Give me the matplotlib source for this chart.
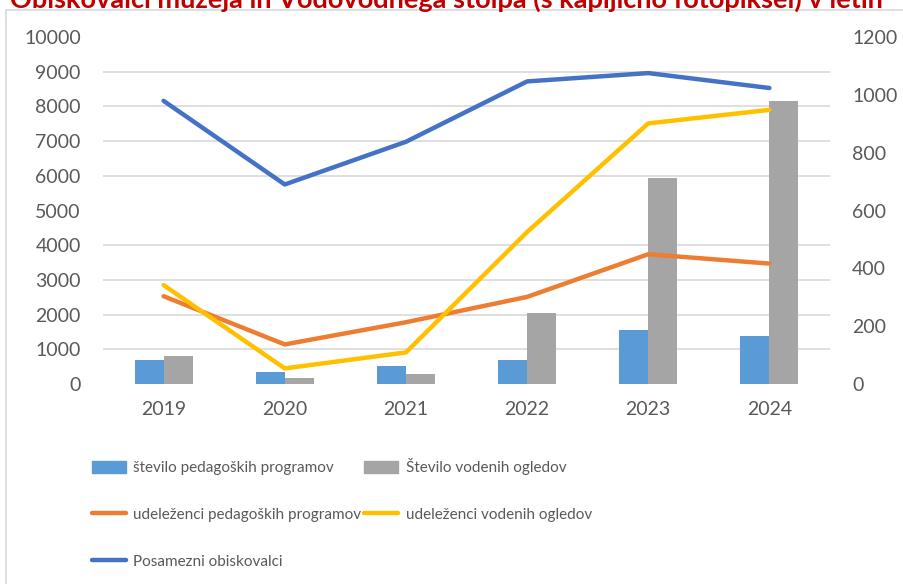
import numpy as np
import matplotlib
matplotlib.use("Agg")
import matplotlib.pyplot as plt
from matplotlib.patches import Rectangle, Patch
from matplotlib.lines import Line2D

years = ["2019", "2020", "2021", "2022", "2023", "2024"]

# bars, right axis
st_pedagoskih = [83, 43, 62, 83, 186, 167]
st_ogledov = [97, 20, 34, 247, 711, 979]

# lines, left axis
udel_pedagoskih = [2530, 1140, 1780, 2510, 3740, 3470]
udel_ogledov = [2850, 450, 910, 4380, 7510, 7900]
posamezni = [8160, 5750, 6980, 8720, 8960, 8530]

plt.rcParams["font.family"] = ["Lato", "DejaVu Sans"]
TXT = "#595959"
GRID = "#D9D9D9"

fig = plt.figure(figsize=(9.04, 5.84), dpi=100)

# outer chart frame (only top / left visible)
fig.patches.append(Rectangle((6 / 904, -0.1), 1.2, 1 - 10 / 584 + 0.1,
                             transform=fig.transFigure, fill=False,
                             edgecolor=GRID, linewidth=1.2))

# title, cut off at the top like the screenshot
fig.text(10 / 904, 1 - 8 / 584,
         "Obiskovalci muzeja in Vodovodnega stolpa (s kapljično fotopiksel) v letih",
         color="#C00000", fontsize=19.5, fontweight="bold", ha="left", va="baseline")

ax = fig.add_axes([103 / 904, 1 - 384 / 584, 727 / 904, 347 / 584])
ax2 = ax.twinx()

x = np.arange(len(years))
w = 0.24
ax2.bar(x - w / 2, st_pedagoskih, w, color="#5B9BD5", zorder=2)
ax2.bar(x + w / 2, st_ogledov, w, color="#A5A5A5", zorder=2)
ax2.set_ylim(0, 1200)
ax2.set_yticks(np.arange(0, 1201, 200))
ax2.set_yticks(np.arange(0, 1201, 120), minor=True)
ax2.grid(which="minor", axis="y", color=GRID, linewidth=1.2, zorder=0)
ax2.tick_params(axis="y", which="both", length=0, pad=16, labelsize=14, labelcolor=TXT)

lw = 3.2
ax.plot(x, udel_pedagoskih, color="#ED7D31", lw=lw, solid_capstyle="round")
ax.plot(x, udel_ogledov, color="#FFC000", lw=lw, solid_capstyle="round")
ax.plot(x, posamezni, color="#4472C4", lw=lw, solid_capstyle="round")
ax.set_ylim(0, 10000)
ax.set_yticks(np.arange(0, 10001, 1000))
ax.set_xlim(-0.5, len(years) - 0.5)
ax.set_xticks(x)
ax.set_xticklabels(years)
ax.tick_params(axis="y", length=0, pad=16, labelsize=14, labelcolor=TXT)
ax.tick_params(axis="x", length=0, pad=12, labelsize=14, labelcolor=TXT)
ax.set_zorder(ax2.get_zorder() + 1)
ax.patch.set_visible(False)

for a in (ax, ax2):
    for s in a.spines.values():
        s.set_visible(False)

handles = [
    Patch(color="#5B9BD5"),
    Line2D([], [], color="#ED7D31", lw=lw, solid_capstyle="round"),
    Line2D([], [], color="#4472C4", lw=lw, solid_capstyle="round"),
    Patch(color="#A5A5A5"),
    Line2D([], [], color="#FFC000", lw=lw, solid_capstyle="round"),
]
labels = [
    "število pedagoških programov",
    "udeleženci pedagoških programov",
    "Posamezni obiskovalci",
    "Število vodenih ogledov",
    "udeleženci vodenih ogledov",
]
fig.legend(handles, labels, ncol=2, loc="upper left",
           bbox_to_anchor=(92 / 904, 1 - 458 / 584), frameon=False,
           borderpad=0, borderaxespad=0,
           fontsize=11, labelcolor=TXT, handlelength=2.2, handleheight=0.8,
           handletextpad=0.5, columnspacing=0.2, labelspacing=2.15)

fig.savefig("out.png", dpi=100)
